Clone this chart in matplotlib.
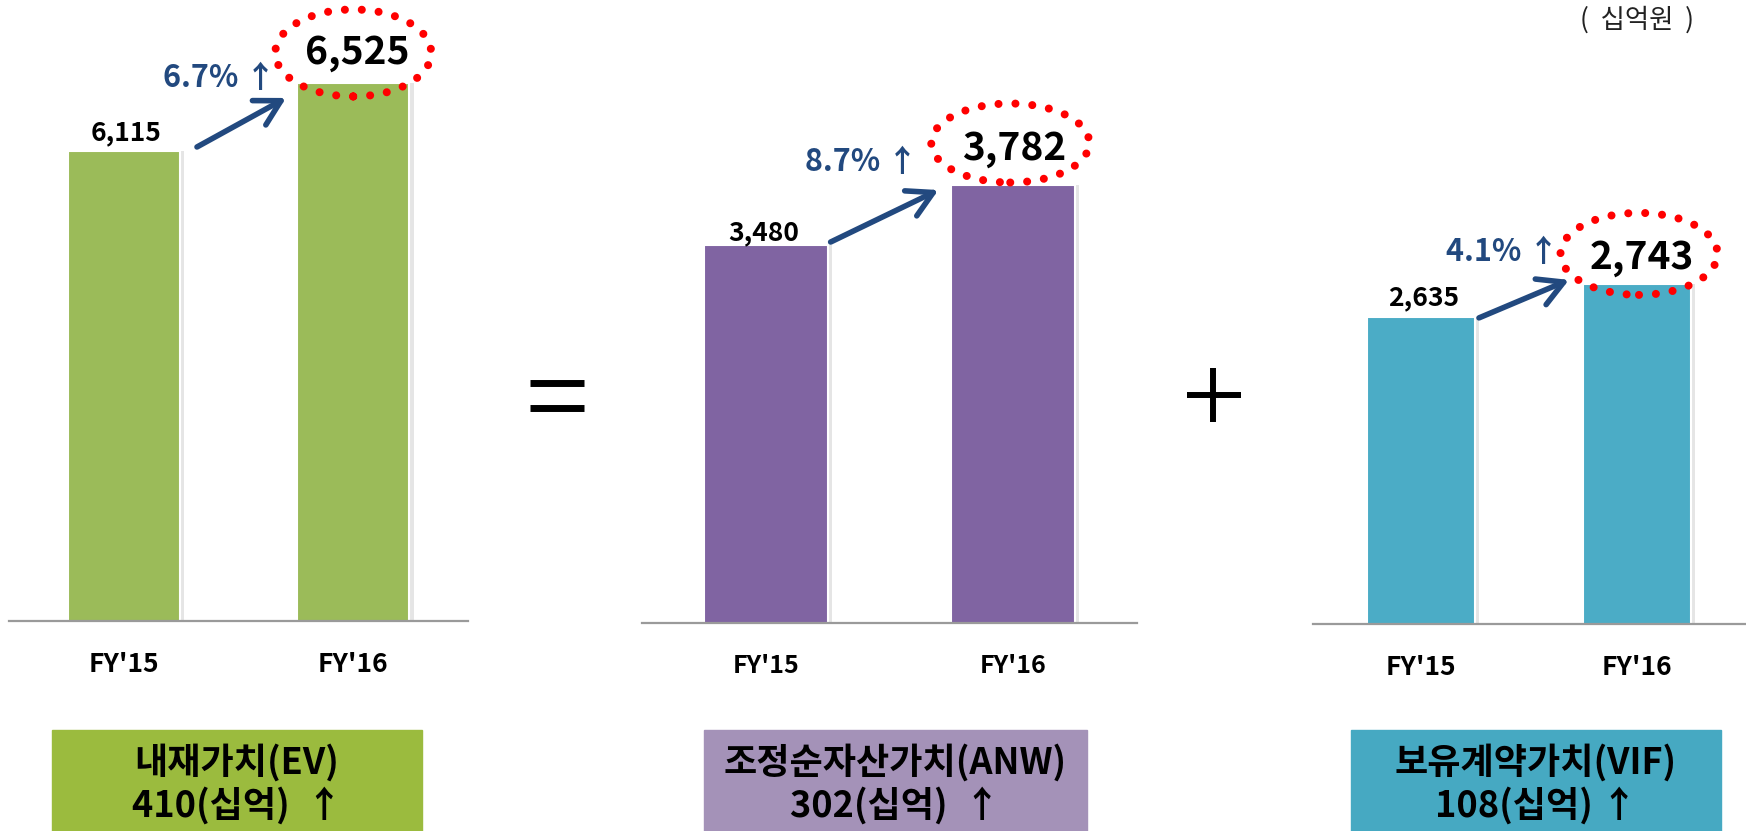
import matplotlib
matplotlib.use("Agg")
import matplotlib.pyplot as plt
from matplotlib.patches import Ellipse, Rectangle
from matplotlib.lines import Line2D
from matplotlib.transforms import ScaledTranslation
import matplotlib.patheffects as pe

plt.rcParams['font.family'] = ['Noto Sans CJK KR', 'DejaVu Sans']

# -------------------------------------------
# Data
# -------------------------------------------
categories = ["FY'15", "FY'16"]
ev_values = [6115, 6525]
anw_values = [3480, 3782]
vif_values = [2635, 2743]

growth_labels = ["6.7% \u2191", "8.7% \u2191", "4.1% \u2191"]
box_titles = ["내재가치(EV)", "조정순자산가치(ANW)", "보유계약가치(VIF)"]
box_amounts = ["410(십억)  \u2191", "302(십억)  \u2191", "108(십억) \u2191"]
unit_label = "(  십억원  )"

# -------------------------------------------
# Layout / style (pixels of a 1746x831 canvas)
# -------------------------------------------
W, H, DPI = 1746, 831, 100
BLUE = '#22497F'

panels = [
    dict(values=ev_values, x0=9, x1=468, base=621, ylim=(3282, 7025), width=0.49,
         bar='#9BBB59', box='#9BBB3E', box_x=(52, 422), tick_fs=19,
         small_off=(2, 18), big_off=(4, 30), ell=(0, 30, 156, 87),
         pct_off=(-134, 5), arr_start=(17, 4), arr_end=(-11, -15)),
    dict(values=anw_values, x0=642, x1=1137, base=623, ylim=(1578, 4713), width=0.5,
         bar='#8064A2', box='#A492B8', box_x=(704, 1087), tick_fs=18,
         small_off=(-2, 12), big_off=(1, 37), ell=(-3, 42, 158, 79),
         pct_off=(-152, 23), arr_start=(3, 3), arr_end=(-13, -5)),
    dict(values=vif_values, x0=1313, x1=1745, base=624, ylim=(1630, 3672), width=0.5,
         bar='#4BACC6', box='#46A9C2', box_x=(1351, 1721), tick_fs=19,
         small_off=(3, 19), big_off=(5, 26), ell=(2, 30, 157, 82),
         pct_off=(-135, 32), arr_start=(4, -1), arr_end=(-14, 4)),
]

fig = plt.figure(figsize=(W / DPI, H / DPI), dpi=DPI)


def px_trans(ax, dx, dy):
    return ax.transData + ScaledTranslation(dx / DPI, dy / DPI, fig.dpi_scale_trans)


for i, p in enumerate(panels):
    ax = fig.add_axes([p['x0'] / W, 1 - p['base'] / H, (p['x1'] - p['x0']) / W, p['base'] / H])
    vals = p['values']
    xs = list(range(len(categories)))
    w = p['width']

    ax.bar(xs, vals, width=w, color=p['bar'], edgecolor='white', linewidth=1.5,
           path_effects=[pe.SimplePatchShadow(offset=(3, 0), shadow_rgbFace='#999999', alpha=0.25),
                         pe.Normal()], zorder=2)
    ax.set_xlim(-0.5, 1.5)
    ax.set_ylim(*p['ylim'])

    for s in ['top', 'left', 'right']:
        ax.spines[s].set_visible(False)
    ax.spines['bottom'].set_color('#9A9A9A')
    ax.spines['bottom'].set_linewidth(1.6)
    ax.set_yticks([])
    ax.set_xticks(xs)
    ax.set_xticklabels(categories, fontsize=p['tick_fs'], fontweight='bold', va='center')
    ax.tick_params(axis='x', length=0, pad=31)
    ax.patch.set_visible(False)

    # FY'15 value
    ax.annotate(f"{vals[0]:,}", xy=(0, vals[0]), xytext=p['small_off'], textcoords='offset pixels',
                ha='center', va='center', fontsize=19, fontweight='bold', color='black')
    # FY'16 value, circled
    ax.annotate(f"{vals[1]:,}", xy=(1, vals[1]), xytext=p['big_off'], textcoords='offset pixels',
                ha='center', va='center', fontsize=28, fontweight='bold', color='black', zorder=5)
    ex, ey, ew, eh = p['ell']
    ell = Ellipse((ex / DPI, ey / DPI), ew / DPI, eh / DPI, fill=False, edgecolor='#FF0000',
                  linewidth=5.8, linestyle=(0, (0.001, 2.1)), capstyle='round',
                  transform=fig.dpi_scale_trans + ScaledTranslation(1, vals[1], ax.transData),
                  clip_on=False, zorder=6)
    ax.add_patch(ell)

    # growth arrow + percentage
    ax.annotate('', xy=(1 - w / 2, vals[1]), xycoords=px_trans(ax, *p['arr_end']),
                xytext=(w / 2, vals[0]), textcoords=px_trans(ax, *p['arr_start']),
                arrowprops=dict(arrowstyle='->,head_length=0.9,head_width=0.5', lw=4, color=BLUE,
                                shrinkA=0, shrinkB=0, mutation_scale=20))
    ax.annotate(growth_labels[i], xy=(1, vals[1]), xytext=p['pct_off'], textcoords='offset pixels',
                ha='center', va='center', fontsize=22, fontweight='bold', color=BLUE)

    # label box under each panel
    bx0, bx1 = p['box_x']
    fig.patches.append(Rectangle((bx0 / W, 0), (bx1 - bx0) / W, (H - 730) / H,
                                 transform=fig.transFigure, color=p['box'], zorder=0))
    cx = (bx0 + bx1) / 2 / W
    fig.text(cx, 1 - 763 / H, box_titles[i], ha='center', va='center', fontsize=26, fontweight='bold')
    fig.text(cx, 1 - 806 / H, box_amounts[i], ha='center', va='center', fontsize=26, fontweight='bold')

# "=" and "+" signs between the panels
for y in (383, 408):
    fig.add_artist(Line2D([530 / W, 584 / W], [1 - y / H, 1 - y / H], color='black', lw=5,
                          solid_capstyle='butt', transform=fig.transFigure))
fig.add_artist(Line2D([1187 / W, 1241 / W], [1 - 395 / H, 1 - 395 / H], color='black', lw=4.3,
                      solid_capstyle='butt', transform=fig.transFigure))
fig.add_artist(Line2D([1213 / W, 1213 / W], [1 - 368 / H, 1 - 422 / H], color='black', lw=4.3,
                      solid_capstyle='butt', transform=fig.transFigure))

fig.text(1637 / W, 1 - 20 / H, unit_label, ha='center', va='center', fontsize=19, color='#222222')

fig.savefig('out.png', dpi=DPI)
